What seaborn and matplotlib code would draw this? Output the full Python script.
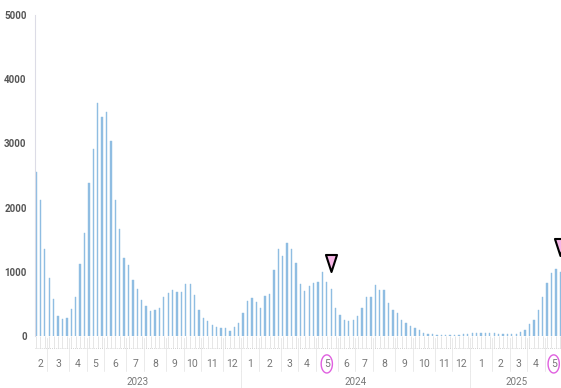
import numpy as np
import pandas as pd
import matplotlib
matplotlib.use("Agg")
import matplotlib.pyplot as plt
from matplotlib.path import Path
import seaborn as sns

# weekly counts, first bar = week starting 2023-02-06
week_start = "2023-02-06"
cases = [
    2560, 2120, 1355, 900, 575, 310, 265, 280, 420, 615,
    1120, 1610, 2390, 2920, 3625, 3405, 3495, 3040, 2125, 1660,
    1210, 1105, 870, 730, 560, 465, 395, 405, 430, 610,
    675, 715, 690, 690, 805, 810, 640, 405, 280, 240,
    170, 135, 130, 130, 85, 135, 210, 365, 545, 585,
    535, 430, 625, 650, 1030, 1350, 1245, 1445, 1360, 1130,
    805, 695, 785, 825, 840, 990, 840, 735, 435, 325,
    250, 240, 250, 315, 440, 610, 612, 795, 715, 715,
    520, 405, 365, 250, 210, 155, 130, 95, 40, 25,
    25, 20, 20, 15, 20, 20, 20, 25, 30, 40,
    50, 45, 45, 40, 45, 35, 30, 25, 25, 30,
    55, 100, 190, 255, 400, 600, 830, 975, 1040, 990,
]
highlight_weeks = ["2024-05-20", "2025-05-19"]
highlight_months = [(2024, 5), (2025, 5)]
y_ticks = [0, 1000, 2000, 3000, 4000, 5000]

n = len(cases)
weeks = pd.date_range(week_start, periods=n, freq="7D")
# a week belongs to the month of its Thursday
thursday = weeks + pd.Timedelta(days=3)
df = pd.DataFrame({
    "week": np.arange(n),
    "cases": cases,
    "year": thursday.year,
    "month": thursday.month,
})

sns.set_theme(style="white")
plt.rcParams["font.family"] = ["Roboto", "DejaVu Sans"]

fig = plt.figure(figsize=(5.61, 3.88), dpi=100)
ax = fig.add_axes([35 / 561, 52 / 388, 526 / 561, 321 / 388])

bar_color = "#8fbde2"
sns.barplot(data=df, x="week", y="cases", color=bar_color, saturation=1,
            width=0.3, edgecolor=bar_color, linewidth=0.3, ax=ax)

ax.set_xlim(-0.23, n - 1 + 0.16)
ax.set_ylim(0, 5000)
ax.set_xlabel("")
ax.set_ylabel("")

# y axis
ax.set_yticks(y_ticks)
ax.set_yticklabels([str(v) for v in y_ticks], fontsize=7, color="#555555",
                   fontweight="semibold")
ax.tick_params(axis="y", left=False, length=0, pad=6)

# one faint tick per week under the bars
ax.set_xticks(range(n))
ax.set_xticklabels([])
ax.tick_params(axis="x", bottom=True, length=8.5, width=0.6, color="#e2e2e2")

for side in ["top", "right", "bottom"]:
    ax.spines[side].set_visible(False)
ax.spines["left"].set_color("#dcdce6")
ax.spines["left"].set_linewidth(0.8)

trans = ax.get_xaxis_transform()
x0, x1 = ax.get_xlim()
ax.plot([x0, x1], [-0.037, -0.037], transform=trans, ls=(0, (1, 1.5)),
        color="#c8c8c8", lw=0.6, clip_on=False)

# month labels and separators
ang = np.linspace(0, 2 * np.pi, 60)
ellipse = Path(np.column_stack([0.62 * np.cos(ang), np.sin(ang)]), closed=True)
months = df.groupby(["year", "month"])["week"].agg(["min", "max"]).reset_index()
for _, row in months.iterrows():
    center = (row["min"] + row["max"]) / 2
    ax.text(center, -0.087, str(row["month"]), transform=trans, ha="center",
            va="center", fontsize=7.5, color="#777777", clip_on=False)
    if row["min"] > 0:
        ax.plot([row["min"] - 0.5] * 2, [-0.006, -0.11], transform=trans,
                color="#e6e6e6", lw=0.6, clip_on=False)
    if (row["year"], row["month"]) in highlight_months:
        ax.scatter([center], [-0.087], transform=trans, marker=ellipse, s=170,
                   facecolors="none", edgecolors="#e060e0", linewidths=1,
                   clip_on=False, zorder=5)

# year labels and separators
years = df.groupby("year")["week"].agg(["min", "max"]).reset_index()
for _, row in years.iterrows():
    center = (row["min"] + row["max"]) / 2
    ax.text(center, -0.143, str(row["year"]), transform=trans, ha="center",
            va="center", fontsize=7, color="#777777", clip_on=False)
    if row["min"] > 0:
        ax.plot([row["min"] - 0.5] * 2, [-0.11, -0.165], transform=trans,
                color="#e6e6e6", lw=0.6, clip_on=False)

# markers over the current week of each season
tri = Path([(-0.65, 1), (0.65, 1), (0, -1), (-0.65, 1)], closed=True)
for wk in highlight_weeks:
    i = int(np.where(weeks == pd.Timestamp(wk))[0][0])
    ax.scatter([i], [cases[i] + 400], marker=tri, s=150, facecolor="#f6b6e6",
               edgecolor="black", linewidths=1.5, zorder=6)

fig.savefig("out.png", dpi=100)
